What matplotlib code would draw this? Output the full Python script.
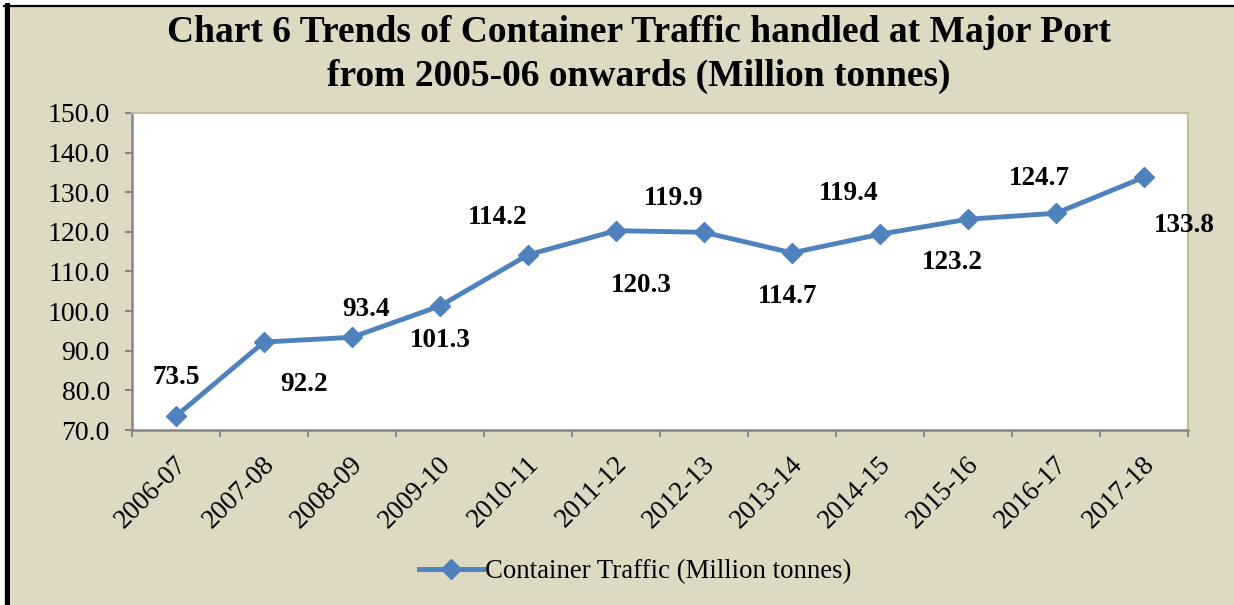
import matplotlib
matplotlib.use("Agg")
import matplotlib.pyplot as plt
import matplotlib.transforms as mtransforms
from matplotlib.lines import Line2D
from matplotlib.patches import Rectangle

plt.rcParams["font.family"] = ["Liberation Serif", "DejaVu Serif"]

years = ["2006-07", "2007-08", "2008-09", "2009-10", "2010-11", "2011-12",
         "2012-13", "2013-14", "2014-15", "2015-16", "2016-17", "2017-18"]
traffic = [73.5, 92.2, 93.4, 101.3, 114.2, 120.3,
           119.9, 114.7, 119.4, 123.2, 124.7, 133.8]
# hand-placed label offsets (pixels), like the Excel original
label_dx = [0, 40, 14, 0, -30, 25, -30, -4, -31, -16, -17, 40]
label_dy = [39, -42, 28, -35, 37, -55, 34, -44, 41, -43, 35, -48]

W, H = 1234, 605
bg = "#DDD9C3"
blue = "#4F81BD"

fig = plt.figure(figsize=(W / 100, H / 100), dpi=100, facecolor="white")
fig.add_artist(Rectangle((4 / W, 0), 1, 1 - 5 / H, transform=fig.transFigure,
                         facecolor=bg, edgecolor="none", zorder=0))
fig.add_artist(Line2D([4 / W, 1], [1 - 6 / H, 1 - 6 / H], transform=fig.transFigure,
                      color="black", lw=1.6))
fig.add_artist(Line2D([6.5 / W, 6.5 / W], [0, 1 - 5 / H], transform=fig.transFigure,
                      color="black", lw=3.6))

ax = fig.add_axes([132 / W, 1 - 430 / H, (1188 - 132) / W, (430 - 113) / H])
ax.set_facecolor("white")

x = list(range(len(years)))
ax.plot(x, traffic, color=blue, lw=3.5, marker="D", markersize=10,
        markerfacecolor=blue, markeredgecolor=blue,
        label="Container Traffic (Million tonnes)", zorder=3)

for xi, v, dx, dy in zip(x, traffic, label_dx, label_dy):
    ax.annotate("%.1f" % v, (xi, v), xytext=(dx, dy), textcoords="offset pixels",
                ha="center", va="center", fontsize=19.5, fontweight="bold")

ax.set_xlim(-0.5, len(years) - 0.5)
ax.set_ylim(70, 150)
ax.set_yticks(range(70, 151, 10))
ax.set_yticklabels(["%.1f" % t for t in range(70, 151, 10)])
ax.set_xticks([i - 0.5 for i in range(len(years) + 1)], minor=False)
ax.set_xticklabels([])
ax.set_xticks(x, minor=True)
ax.set_xticklabels(years, minor=True, rotation=45, ha="right",
                   rotation_mode="anchor", va="center")
ax.tick_params(axis="x", which="minor", length=0, pad=22, labelsize=19.5)
ax.tick_params(axis="x", which="major", length=5, color="#868686", width=1.5,
               direction="out")
ax.tick_params(axis="y", length=5, color="#868686", width=1.5, direction="out",
               labelsize=20, pad=11)
# nudge the rotated year labels a little right, as in the original
shift = mtransforms.ScaledTranslation(7 / 100, 0, fig.dpi_scale_trans)
for lbl in ax.get_xticklabels(minor=True):
    lbl.set_transform(lbl.get_transform() + shift)

for side in ("left", "bottom"):
    ax.spines[side].set_color("#868686")
    ax.spines[side].set_linewidth(1.8)
for side in ("top", "right"):
    ax.spines[side].set_color("#C4BD97")
    ax.spines[side].set_linewidth(1.5)

fig.text(0.518, 1 - 33 / H, "Chart 6 Trends of Container Traffic handled at Major Port",
         ha="center", va="center", fontsize=27, fontweight="bold")
fig.text(0.518, 1 - 76 / H, "from 2005-06 onwards (Million tonnes)",
         ha="center", va="center", fontsize=27, fontweight="bold")

leg = fig.legend(loc="center", bbox_to_anchor=(635 / W, 1 - 572 / H), frameon=False,
                 fontsize=19.3, handlelength=2.4, handletextpad=0.05)

fig.savefig("out.png", dpi=100, facecolor=fig.get_facecolor())
